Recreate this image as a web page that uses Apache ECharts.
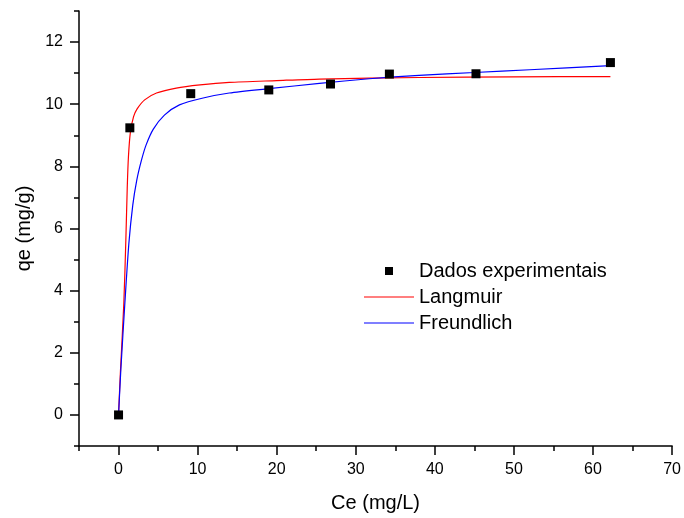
<!DOCTYPE html>
<html>
<head>
<meta charset="utf-8">
<script src="https://cdn.jsdelivr.net/npm/echarts@6/dist/echarts.min.js"></script>
<style>
html,body{margin:0;padding:0;background:#fff;}
#chart{width:684px;height:518px;}
</style>
</head>
<body>
<div id="chart"></div>
<script>
// Experimental data
const ceExp = [0, 1.43, 9.13, 19.0, 26.8, 34.25, 45.2, 62.2];
const qeExp = [0, 9.24, 10.34, 10.46, 10.65, 10.97, 10.98, 11.34];

// Langmuir fitted curve
const langX = [0, 0.25, 0.67, 0.92, 1.1, 1.25, 1.5, 1.9, 2.35, 3.3, 4.8, 7.3, 10.3, 14, 20, 25.4, 38, 50, 62.2];
const langY = [0, 1.45, 3.6, 5.6, 7.3, 8.3, 9.1, 9.6, 9.85, 10.14, 10.36, 10.52, 10.62, 10.70, 10.76, 10.81, 10.86, 10.88, 10.89];

// Freundlich fitted curve
const freuX = [0, 0.3, 0.8, 1.3, 1.8, 2.3, 2.9, 3.5, 4.4, 5.8, 7.7, 10.7, 14, 19, 25.4, 31.7, 38, 45, 52, 62.2];
const freuY = [0, 1.5, 3.6, 5.5, 6.75, 7.55, 8.2, 8.7, 9.2, 9.65, 9.98, 10.2, 10.36, 10.5, 10.67, 10.82, 10.93, 11.02, 11.11, 11.24];

// Axis ticks
const xMajorTicks = [0, 10, 20, 30, 40, 50, 60, 70];
const xMinorTicks = [-5, 5, 15, 25, 35, 45, 55, 65];
const yMajorTicks = [0, 2, 4, 6, 8, 10, 12];
const yMinorTicks = [-1, 1, 3, 5, 7, 9, 11, 13];

const names = ['Dados experimentais', 'Langmuir', 'Freundlich'];

const zip = (a, b) => a.map((v, i) => [v, b[i]]);
const FONT = 'Liberation Sans, Arial, sans-serif';
const axisLineStyle = {color: '#000', width: 1.5};

const chart = echarts.init(document.getElementById('chart'), null, {renderer: 'canvas'});
chart.setOption({
  animation: false,
  backgroundColor: '#fff',
  grid: {left: 79, right: 11, top: 11, bottom: 72, containLabel: false},
  legend: {
    orient: 'vertical',
    left: 359,
    top: 256,
    itemWidth: 50,
    itemHeight: 8,
    itemGap: 6,
    textStyle: {fontFamily: FONT, fontSize: 20, color: '#000', lineHeight: 20},
    data: [
      {name: names[0], icon: 'path://M0,0M50,8M21,0h8v8h-8z'},
      {name: names[1], icon: 'path://M0,0M50,8M0,3.4h50v1.2h-50z'},
      {name: names[2], icon: 'path://M0,0M50,8M0,3.4h50v1.2h-50z'}
    ]
  },
  xAxis: [{
    type: 'value', min: -5, max: 70,
    axisLine: {show: true, onZero: false, lineStyle: axisLineStyle},
    axisTick: {show: true, inside: false, length: 9, customValues: xMajorTicks, lineStyle: axisLineStyle},
    axisLabel: {show: true, customValues: xMajorTicks, margin: 16, fontFamily: FONT, fontSize: 16, color: '#000'},
    splitLine: {show: false},
    name: 'Ce (mg/L)', nameLocation: 'middle', nameGap: 47,
    nameTextStyle: {fontFamily: FONT, fontSize: 20, color: '#000'}
  }, {
    type: 'value', min: -5, max: 70, position: 'bottom',
    axisLine: {show: false, onZero: false},
    axisTick: {show: true, inside: false, length: 5, customValues: xMinorTicks, lineStyle: axisLineStyle},
    axisLabel: {show: false},
    splitLine: {show: false}
  }],
  yAxis: [{
    type: 'value', min: -1, max: 13,
    axisLine: {show: true, onZero: false, lineStyle: axisLineStyle},
    axisTick: {show: true, inside: false, length: 9, customValues: yMajorTicks, lineStyle: axisLineStyle},
    axisLabel: {show: true, customValues: yMajorTicks, margin: 16, fontFamily: FONT, fontSize: 16, color: '#000'},
    splitLine: {show: false},
    name: 'qe (mg/g)', nameLocation: 'middle', nameGap: 44,
    nameTextStyle: {fontFamily: FONT, fontSize: 20, color: '#000'}
  }, {
    type: 'value', min: -1, max: 13, position: 'left',
    axisLine: {show: false, onZero: false},
    axisTick: {show: true, inside: false, length: 5, customValues: yMinorTicks, lineStyle: axisLineStyle},
    axisLabel: {show: false},
    splitLine: {show: false}
  }],
  series: [
    {
      name: names[1], type: 'line', data: zip(langX, langY),
      symbol: 'none', smooth: 0.25,
      lineStyle: {color: '#ff0000', width: 1.2}, itemStyle: {color: '#ff0000'}, z: 2
    },
    {
      name: names[2], type: 'line', data: zip(freuX, freuY),
      symbol: 'none', smooth: 0.25,
      lineStyle: {color: '#0000ff', width: 1.2}, itemStyle: {color: '#0000ff'}, z: 3
    },
    {
      name: names[0], type: 'scatter', data: zip(ceExp, qeExp),
      symbol: 'rect', symbolSize: 9,
      itemStyle: {color: '#000', opacity: 1}, z: 4
    }
  ]
});
</script>
</body>
</html>
